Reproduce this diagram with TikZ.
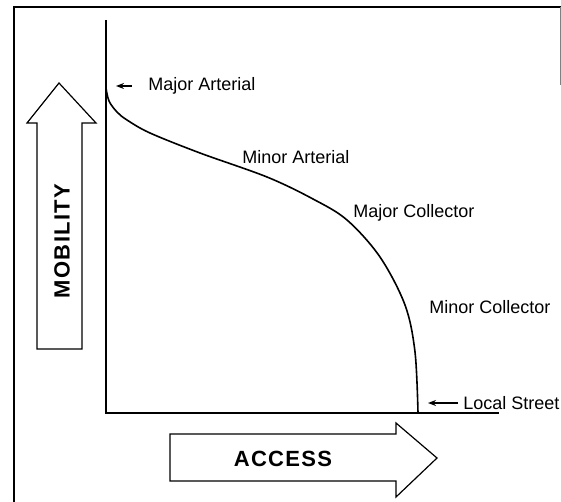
\documentclass[tikz,border=0pt]{standalone}
\usepackage{fontspec}
\setmainfont{Liberation Sans}
\usetikzlibrary{arrows.meta}

\tikzset{
	lbl/.style={font=\fontsize{9}{11}\selectfont, inner sep=0pt},
	biglbl/.style={font=\fontsize{11}{13}\selectfont\bfseries\addfontfeature{LetterSpace=6}, inner sep=0pt},
	blockarrow/.style={draw, line width=0.6pt, line join=miter},
	pointer/.style={-{Stealth[length=4pt, width=3pt]}, line width=0.7pt},
}

\begin{document}
\begin{tikzpicture}[x=0.5pt, y=-0.5pt]

	\useasboundingbox (0,0) rectangle (561,502);

	% Frame
	\draw[line width=1.1pt] (14,120) -- (14,7) -- (561,7);
	\draw[line width=0.6pt] (14,120) -- (14,502);
	\draw[line width=0.4pt, gray] (560,7) -- (560,85);

	% Axes
	\coordinate (ytop) at (106,20);
	\coordinate (origin) at (106,413);
	\coordinate (xend) at (499,413);
	\draw[line width=1.1pt] (ytop) -- (origin) -- (xend);

	% Curve
	\coordinate (majart) at (106,88);
	\coordinate (locst) at (418,413);
	\draw[line width=0.8pt] plot[smooth, tension=0.55] coordinates {(majart) (109,101) (117,112) (127,120) (150,133) (200,153) (267,177) (313,199) (347,220) (380,257) (405,305) (415,352) (locst)};

	% Mobility
	\draw[blockarrow] (37,349) -- (37,123) -- (27,123) -- (59,83) -- (96,123) -- (82,123) -- (82,349) -- cycle;
	\draw (62,241) node[biglbl, rotate=90] (mobility) {MOBILITY};

	% Access
	\draw[blockarrow] (170,434) -- (396,434) -- (396,423) -- (437,458) -- (396,497) -- (396,481) -- (170,481) -- cycle;
	\draw (283,459) node[biglbl] (access) {ACCESS};

	% Labels
	\draw (148,86) node[lbl, anchor=west] (majarttxt) {Major Arterial};
	\draw (296,157) node[lbl] (minarttxt) {Minor Arterial};
	\draw (414,213) node[lbl] (majcoltxt) {Major Collector};
	\draw (490,307) node[lbl] (mincoltxt) {Minor Collector};
	\draw (463,403) node[lbl, anchor=west] (locsttxt) {Local Street};

	% Pointers
	\coordinate (majtip) at (116,86);
	\coordinate (loctip) at (428,403);
	\draw[pointer, shorten <=8pt] (majarttxt.west) -- (majtip);
	\draw[pointer, shorten <=2.5pt] (locsttxt.west) -- (loctip);

\end{tikzpicture}
\end{document}
